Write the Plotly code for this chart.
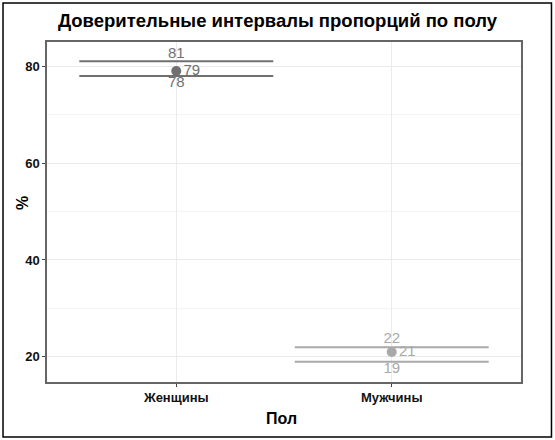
import plotly.graph_objects as go

# Данные
categories = ["Женщины", "Мужчины"]
lower = [78, 19]
estimate = [79, 21]
upper = [81, 22]
colors = ["#707070", "#a9a9a9"]

half_w = 0.45  # половина ширины интервала (в единицах оси категорий)

fig = go.Figure()

for i, cat in enumerate(categories):
    xpos = i + 1
    c = colors[i]
    # верхняя и нижняя границы интервала
    for val in (upper[i], lower[i]):
        fig.add_trace(go.Scatter(
            x=[xpos - half_w, xpos + half_w],
            y=[val, val],
            mode="lines",
            line=dict(color=c, width=2),
            hoverinfo="skip",
            showlegend=False
        ))
    # точечная оценка
    fig.add_trace(go.Scatter(
        x=[xpos], y=[estimate[i]],
        mode="markers+text",
        marker=dict(color=c, size=10),
        text=[str(estimate[i])],
        textposition="middle right",
        textfont=dict(color=c, size=15, family="Liberation Sans"),
        showlegend=False
    ))
    # подписи границ
    fig.add_trace(go.Scatter(
        x=[xpos], y=[upper[i]],
        mode="text",
        text=[str(upper[i])],
        textposition="top center",
        textfont=dict(color=c, size=15, family="Liberation Sans"),
        showlegend=False
    ))
    fig.add_trace(go.Scatter(
        x=[xpos], y=[lower[i]],
        mode="text",
        text=[str(lower[i])],
        textposition="bottom center",
        textfont=dict(color=c, size=15, family="Liberation Sans"),
        showlegend=False
    ))

fig.update_layout(
    width=555,
    height=440,
    margin=dict(l=47, r=34, t=42, b=58),
    paper_bgcolor="white",
    plot_bgcolor="white",
    font=dict(family="Liberation Sans", color="black"),
    title=dict(
        text="<b>Доверительные интервалы пропорций по полу</b>",
        x=0.5, xanchor="center",
        y=0.953, yanchor="middle",
        font=dict(size=18.5, color="black")
    ),
    xaxis=dict(
        range=[0.4, 2.6],
        tickvals=[1, 2],
        ticktext=categories,
        tickfont=dict(size=13, weight="bold", color="#111"),
        showgrid=True, gridcolor="#ebebeb", gridwidth=1,
        zeroline=False,
        showline=True, linecolor="#666", linewidth=1.5, mirror=True,
        ticks="outside", ticklen=3, tickcolor="#444"
    ),
    yaxis=dict(
        range=[14.8, 85],
        tickvals=[20, 40, 60, 80],
        tickfont=dict(size=13, weight="bold", color="#111"),
        showgrid=True, gridcolor="#ebebeb", gridwidth=1,
        minor=dict(tickvals=[30, 50, 70], showgrid=True, gridcolor="#f4f4f4", gridwidth=1),
        zeroline=False,
        showline=True, linecolor="#666", linewidth=1.5, mirror=True,
        ticks="outside", ticklen=3, tickcolor="#444"
    ),
    annotations=[
        dict(text="<b>Пол</b>", x=0.495, y=-0.106, xref="paper", yref="paper",
             xanchor="center", yanchor="middle", showarrow=False,
             font=dict(size=16, color="black")),
        dict(text="<b>%</b>", x=-0.053, y=0.526, xref="paper", yref="paper",
             xanchor="center", yanchor="middle", showarrow=False, textangle=-90,
             font=dict(size=16, color="black")),
    ],
    shapes=[
        dict(type="rect", xref="paper", yref="paper",
             x0=-0.0928, x1=1.0643, y0=-0.1618, y1=1.1147,
             line=dict(color="black", width=1.5), fillcolor="rgba(0,0,0,0)")
    ]
)

# убрать стандартный отступ страницы, чтобы рисунок начинался с (0, 0)
fig.write_html("out.html", config={"displayModeBar": False},
               post_script="document.body.style.margin='0';")
